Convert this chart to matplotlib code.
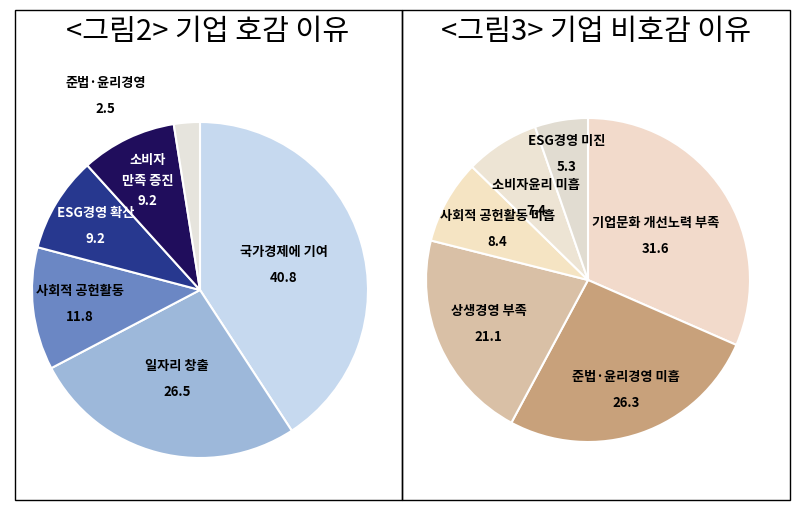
import matplotlib
matplotlib.use("Agg")
import matplotlib.pyplot as plt
import numpy as np
from matplotlib.patches import Rectangle

plt.rcParams['font.family'] = ['Noto Sans CJK KR', 'DejaVu Sans']

left_title = "<그림2> 기업 호감 이유"
left_labels = ["국가경제에 기여", "일자리 창출", "사회적 공헌활동", "ESG경영 확산", "소비자\n만족 증진", "준법·윤리경영"]
left_values = [40.8, 26.5, 11.8, 9.2, 9.2, 2.5]
left_colors = ["#c6d9ef", "#9db8da", "#6b87c4", "#27388f", "#200d5c", "#e6e4dd"]
left_textc = ["black", "black", "black", "white", "white", "black"]
left_dist = [0.52, 0.55, 0.72, 0.73, 0.72, 1.16]
left_shift = [0, 0, 0, 0, 0, -0.47]

right_title = "<그림3> 기업 비호감 이유"
right_labels = ["기업문화 개선노력 부족", "준법·윤리경영 미흡", "상생경영 부족", "사회적 공헌활동 미흡", "소비자윤리 미흡", "ESG경영 미진"]
right_values = [31.6, 26.3, 21.1, 8.4, 7.4, 5.3]
right_colors = ["#f2dacb", "#c8a17b", "#d9c0a6", "#f5e4c3", "#ede4d4", "#e1dcd1"]
right_textc = ["black"] * 6
right_dist = [0.5, 0.72, 0.67, 0.64, 0.6, 0.79]
right_shift = [0] * 6

fig = plt.figure(figsize=(8.08, 5.08), dpi=100)
W, H = 808, 508

def px_axes(x0, y0, x1, y1):
    return fig.add_axes([x0 / W, (H - y1) / H, (x1 - x0) / W, (y1 - y0) / H])

bg = fig.add_axes([0, 0, 1, 1]); bg.set_xlim(0, W); bg.set_ylim(H, 0); bg.axis('off')
bg.add_patch(Rectangle((15, 10), 387, 490, fill=False, lw=1, ec='black'))
bg.add_patch(Rectangle((402, 10), 388, 490, fill=False, lw=1, ec='black'))
bg.text(208, 32, left_title, ha='center', va='center', fontsize=21)
bg.text(596, 32, right_title, ha='center', va='center', fontsize=21)

def draw(cx, cy, r, labels, values, colors, tcs, dists, shifts):
    ax = px_axes(cx - r, cy - r, cx + r, cy + r)
    wedges, _ = ax.pie(values, colors=colors, startangle=90, counterclock=False,
                       wedgeprops=dict(edgecolor='white', linewidth=1.5))
    ax.set_xlim(-1, 1); ax.set_ylim(-1, 1); ax.set_aspect('equal')
    for w, lab, v, tc, d, s in zip(wedges, labels, values, tcs, dists, shifts):
        a = np.deg2rad((w.theta1 + w.theta2) / 2)
        multi = "\n" in lab
        ax.text(d * np.cos(a) + s, d * np.sin(a), f"{lab}\n{v}",
                ha='center', va='center', fontsize=9.5, fontweight='bold', color=tc,
                linespacing=1.6 if multi else 2.1, clip_on=False)

draw(200, 290, 168, left_labels, left_values, left_colors, left_textc, left_dist, left_shift)
draw(588, 280, 162, right_labels, right_values, right_colors, right_textc, right_dist, right_shift)

fig.savefig("out.png", dpi=100)
